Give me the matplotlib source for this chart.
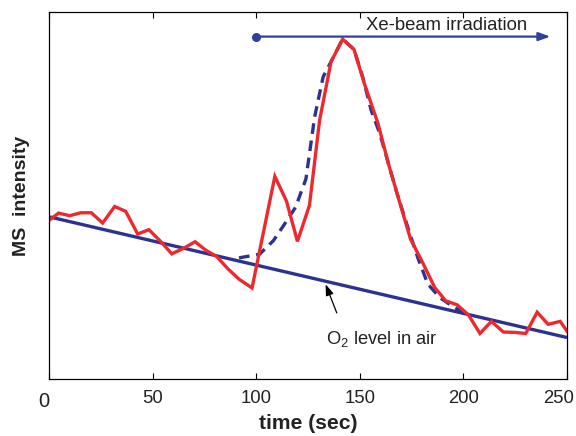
import matplotlib
matplotlib.use("Agg")
import matplotlib.pyplot as plt
from matplotlib.transforms import ScaledTranslation

plt.rcParams['font.family'] = ['Liberation Sans', 'DejaVu Sans']
plt.rcParams['mathtext.fontset'] = 'custom'
plt.rcParams['mathtext.rm'] = 'Liberation Sans'
plt.rcParams['mathtext.it'] = 'Liberation Sans:italic'
plt.rcParams['mathtext.bf'] = 'Liberation Sans:bold'

# measured signal (red)
t_meas = [0, 4.6, 10, 15.4, 20.4, 25.9, 31.7, 37, 42.8, 48.2, 53.5, 59.3, 65.2, 70.5,
          75.9, 80.9, 86.4, 91.7, 98, 109, 114.6, 119.9, 125.7, 130.6, 136.1, 141.7,
          147.2, 152.2, 158.8, 163.8, 168.8, 174.5, 179.9, 186.2, 191.5, 197, 202.4,
          208, 213.5, 219.3, 224.8, 230.1, 235.6, 240.9, 246.7, 251.7]
v_meas = [43.2, 45.2, 44.5, 45.3, 45.3, 42.5, 47.0, 45.7, 39.5, 40.7, 37.7, 34.1, 35.7, 37.4,
          35.0, 33.4, 30.0, 27.2, 24.8, 55.2, 48.5, 37.5, 47.3, 70.5, 86.4, 92.6,
          89.8, 80.5, 69.6, 58.7, 49.0, 38.1, 32.2, 24.9, 21.3, 20.2, 17.5,
          12.4, 15.7, 12.8, 12.7, 12.4, 18.2, 14.9, 15.7, 11.7]

# model curve (dashed)
t_model = [91.7, 101.6, 108.3, 113.2, 119, 124, 128.2, 132.3, 136.5, 141.7, 147.2, 151.4,
           155.5, 159.7, 163.8, 168, 173.7, 177.9, 182.8, 188.6, 194.5, 201]
v_model = [33.0, 34.0, 37.7, 41.8, 46.8, 54.5, 71.4, 82.3, 86.9, 92.6, 89.8, 82.3,
           73.2, 66.8, 58.7, 50.5, 40.4, 33.2, 25.9, 22.2, 19.9, 17.8]

# O2 level in air baseline
t_base = [0, 250]
v_base = [44.2, 11.3]

# Xe-beam irradiation interval
xe_start, xe_end, xe_level = 100, 242, 93.3

xticks = [0, 50, 100, 150, 200, 250]
xticklabels = ['0', '50', '100', '150', '200', '250']

navy = '#2b3290'
red = '#ec2a2e'
arrow_blue = '#3040a0'
txt = '#222222'

fig = plt.figure(figsize=(5.76, 4.36), dpi=100)
ax = fig.add_axes([49 / 576, 57 / 436, 518 / 576, 367 / 436])

ax.plot(t_base, v_base, color=navy, lw=2.4, solid_capstyle='butt')
ax.plot(t_model, v_model, color=navy, lw=2.4, ls=(0, (3.2, 2.0)))
ax.plot(t_meas, v_meas, color=red, lw=2.4, solid_joinstyle='miter')

# Xe-beam arrow
ax.annotate('', xy=(xe_end, xe_level), xytext=(xe_start, xe_level),
            arrowprops=dict(arrowstyle='-|>,head_length=0.7,head_width=0.25',
                            color=arrow_blue, lw=1.6, shrinkA=0, shrinkB=0))
ax.plot([xe_start], [xe_level], 'o', color=arrow_blue, ms=5.5)
ax.text(191.8, 96.3, 'Xe-beam irradiation', ha='center', va='center', fontsize=13.3,
        color=txt)

# O2 annotation
ax.annotate('O$_2$ level in air', xy=(133.5, 25.8), xytext=(160.7, 11.0),
            ha='center', va='center', fontsize=13.2, color=txt,
            arrowprops=dict(arrowstyle='-|>,head_length=0.5,head_width=0.18',
                            color='black', lw=0.9, shrinkA=10, shrinkB=0,
                            relpos=(0.15, 1.0)))

ax.set_xlim(0, 250)
ax.set_ylim(0, 100)
ax.set_xticks(xticks)
ax.set_xticklabels(xticklabels, fontsize=13.3, color=txt)
ax.set_yticks([])
ax.tick_params(axis='x', direction='in', top=True, length=4, width=0.8, pad=8)
for s in ax.spines.values():
    s.set_linewidth(0.9)

labels = ax.get_xticklabels()
lbl0 = labels[0]
lbl0.set_fontsize(14.5)
lbl0.set_transform(lbl0.get_transform() + ScaledTranslation(-5 / 100, -2 / 100, fig.dpi_scale_trans))
lblN = labels[-1]
lblN.set_transform(lblN.get_transform() + ScaledTranslation(-8 / 100, 0, fig.dpi_scale_trans))

ax.set_xlabel('time (sec)', fontsize=15.2, fontweight='bold', labelpad=2, color=txt)
ax.set_ylabel('MS  intensity', fontsize=14, fontweight='bold', labelpad=14, color=txt)

fig.savefig('out.png', dpi=100)
